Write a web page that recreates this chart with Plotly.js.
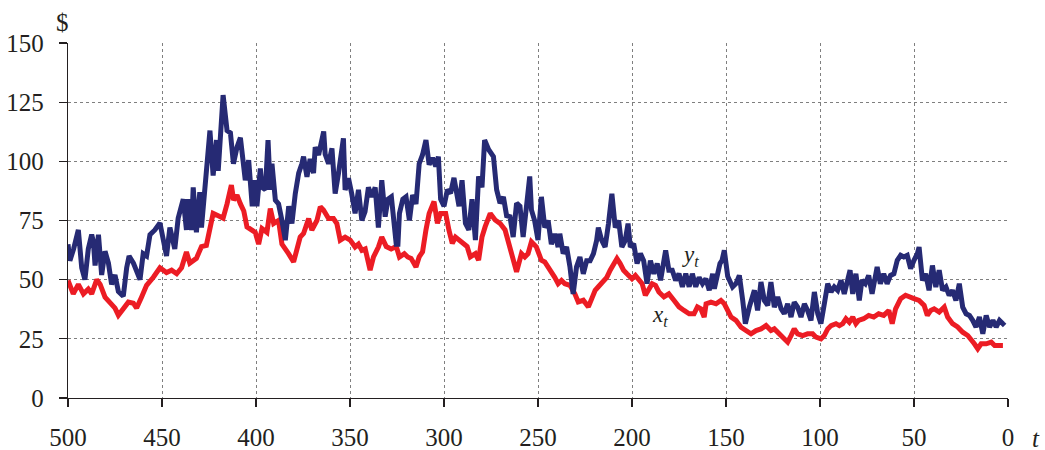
<!DOCTYPE html>
<html>
<head>
<meta charset="utf-8">
<script src="https://cdn.plot.ly/plotly-3.0.1.min.js"></script>
<style>html,body{margin:0;padding:0;background:#fff;}#chart{width:1045px;height:450px;}</style>
</head>
<body>
<div id="chart"></div>
<script>
// y_t (navy) series: time t and price
const yT = [500,499,497,494.5,492.7,491,489.2,487.4,486.5,485.6,483.8,482.1,480.3,478.5,476.8,475,473.2,470.6,468.8,467.5,465.2,461.7,460,458.2,456.4,453.8,451.1,449.4,447.6,445.8,443.2,441.4,438.7,437,436.1,434.3,433.4,431.7,429.9,429,427.2,426.4,424.5,422.8,421,420.1,417.5,415.4,413.6,412,410.1,408.3,406.5,405.7,403.9,402,400.4,399.5,397.7,396.8,395,393.6,392.4,391.5,389.7,388,386.2,384.4,382.6,380.9,379.1,377.3,375.6,374.7,372.9,371.2,369.4,368.5,366.7,364,363.2,361.4,359.6,357.9,356.1,353.5,352.6,350.8,349.1,347.3,345.5,343.7,342,340.2,338.4,336.6,334.9,333.1,331.3,329.8,328,326.3,325.4,324.5,323.7,321.9,320.2,318.4,316.7,314.9,313.2,311.4,309.6,307.9,306.1,304.4,303,301.8,300,298.2,296.5,294.7,292,290.4,288.6,286.8,285.1,283.3,281.6,279.8,278.4,276.3,273.7,272,270.2,268.4,266.7,264.9,263.2,261.4,259.6,257.9,256.1,254.4,253.5,251.8,250,248.2,246.4,244.6,242.9,241.1,239.3,238.4,236.6,234.8,233,231.3,229.5,227.7,225.9,224.1,222.3,220.5,218.8,217.9,216.1,214.3,212.5,210.7,208.9,207.1,205.4,203.6,202.1,200.9,199.1,197.3,195.5,193.8,192,190.2,188.4,186.6,184.8,182.1,180.4,178.6,176.8,175,173.2,171.4,169.6,167.9,166.1,164.3,162.5,160.7,158.9,157.1,156.2,154.4,153.2,152.1,150.9,149.1,146.5,144.7,142.9,141.1,139.7,137.6,134.9,133.2,131.4,129.6,127.8,126.1,124.3,122.5,120.7,119,117.2,115.4,113.7,111.9,110.1,108.3,106.6,104.8,103,101.2,99.5,97.7,95.9,94.1,92.4,90.6,88.8,87.1,85.3,84,82.6,80.9,79.1,77.7,75.9,74.1,72.3,70.5,69.6,67.9,66.1,64.3,62.5,60.7,58.9,57.1,55.4,53.6,51.8,50,48.2,47.3,45.5,43.8,42,40.2,38.4,36.6,34.8,33,31.3,29.5,27.7,25.9,24.1,22.3,20.5,18.8,17,15.2,13.4,11.6,9.8,8,6.3,4.5,2.7,1.8];
const yVal = [65,58,63,71,55,50,63,69,66,56,69,52,62,57,48,52,45,43,55,60,57,50,61,60,69,71,74,67,60,72,63,76,84,71,84,71,89,70,87,72,88,98,113,94,109,96,128,113,112,99,106,110,99,92,100.5,81,92,81,97,89,88,109,88,99,83.6,82,75,66.7,81,73.7,86.4,95,99,102,93.5,101,95,106,102.7,112.6,103,99,105.5,86.4,95,109.7,87.9,92.8,86.4,78,88,75,78.7,89,85,89,72,92,76.6,84,85,72.4,65,65,78,84,85,75,85.8,82,99,102.8,109,98.6,101.4,97.9,102,84,81,88,86.5,93,81,92,73.8,71,84,66.7,93.6,89,109,105,102,88,82.3,85,77,76.6,68,82.3,81,68,84,93.6,79.5,75,66.7,85,72,75,65,69.4,63.8,69.4,61,63.8,55.4,44,55.4,59.6,52.5,58,58,61,66.6,72,66.6,63.8,73.7,86.3,72,75,63.8,66.6,73.7,63.8,65.2,56.8,61,58,48.3,58,52.5,56.8,49.7,62.4,54,54,49.7,52.5,47,52.5,47,52.5,47,51,48.3,50.4,45.5,52.5,46.2,54,56.8,58.2,62.4,51.4,46.9,48.3,51.8,41.2,31.4,38.4,45.5,37,49,41.2,39.1,49,38.4,42.7,37.7,35.6,39.8,34.2,40.5,38.4,34.2,39.8,37,32.8,44.8,35.6,31.4,39.8,48.3,44.8,46.9,45.5,49.7,44,51.1,54,44,52.5,41.2,49.7,48.3,51.8,44,51.1,55.4,48.3,52.5,48.3,51.8,52.5,58.2,60.3,59.6,60.3,54.7,58.2,61,63.8,49.7,52.5,45.5,56,46.9,54,45.5,46.9,43.4,45.5,41.2,48.3,38.4,35.6,34.9,32.8,30,34.2,27.1,34.9,30,32.8,30,32.8,31.4,32.1];

// x_t (red) series
const xT = [500,497.2,494.5,491.8,489.2,487.4,484.7,482.9,480.3,477.7,475,473.2,470.6,467.9,465.2,463.5,460.9,458.2,454.6,451.1,447.6,444.9,442.2,439.6,437,435.2,431.7,429,426.4,422.8,420.1,417.5,415.4,413.1,411.9,410.1,408.3,406.5,404.8,403,400.4,398.6,396.8,394.2,392.4,390.6,388,386.2,384.4,382.7,380,378.2,376.5,374.7,372,370.3,367.6,365.8,364.1,361.4,358.8,357,355.2,352.6,349.9,347.3,345.5,343.7,341.9,339.3,337.5,334.9,333.1,330.7,328.1,325.4,323.7,321.1,319.3,317.5,314.9,313.2,311.4,309.6,307.9,305.3,303.5,301.8,299.1,297.4,295.6,293.9,292.1,289.5,287.7,286,283.3,281.6,279.8,278.1,275.4,272.8,270.2,267.5,264.9,263.2,261.4,258.8,257,255.3,253.5,250.9,248.2,246.4,244.6,242.9,241.1,239.3,237.5,235.7,233,230.4,228.6,225.9,223.2,221.4,219.6,217.9,215.2,213.4,211.6,209.8,208,206.3,204.5,202.7,200,198.2,196.4,194.6,192.9,191.1,189.3,187.5,185.7,183,180.4,177.7,175,172.3,169.6,167,165.2,163.4,161.6,160.6,158,155.3,152.7,150.9,149.1,147.3,144.7,142,139.4,136.7,134,131.4,128.7,126.1,124.3,121.6,119,117.2,115.4,113.7,111.9,109.2,106.6,103.9,102.1,99.5,97.7,95.9,94.1,91.5,89.7,87.9,86.2,84.4,82.6,80.9,79.5,76.8,74.1,71.4,68.8,66.1,63.4,61.6,59.8,57.1,54.5,52.7,50,47.3,44.6,42.9,41.1,39.3,36.6,33.9,32.1,29.5,26.8,24.1,21.4,17.9,16.1,14.3,11.6,8.9,7.1,4.5,2.7];
const xVal = [49.7,44,48,44,46,44,50,48,42.6,40,38,35,38,40.5,40,38,42.6,47.6,51,55,53,54,52.5,55,61.7,57,59,64,64.5,78,77,76,82,90,83.6,85.7,82,79,72.3,71.6,70,65,71.6,70,80,73.7,75,65,62.4,61,57.5,63,68,69.5,75.8,71,75,80.8,79.4,75.8,75.8,73.7,66.7,68,66.7,63.8,65,62.4,63,54,59.6,63.8,68,64,63,64,59.6,61,59.6,59,55.4,59.6,61.8,71,78,83,73.8,78,78,71,65.3,68,66.7,65.3,64,59.6,61,58.2,68,72.4,78,75.2,73.8,71,62.5,58.2,53.3,61,59.6,61,66,63.9,58.2,57.5,55.4,54,51,48.3,49.7,48.3,47.6,44,40.6,41.3,38.5,42,45.5,47,49.7,51,54,56.8,58.9,56.8,54,52.5,50.4,51.8,50.4,48.3,43.4,45.5,48.3,47.6,44.8,42.7,44,41.3,38.5,37,35.6,35.6,38.5,37.7,34.2,39.8,40.5,39.8,41.2,39.8,37,34.2,32.8,29.9,28.5,27.1,28.5,29.2,30.6,28.5,29.2,27.1,25.7,23.6,26.4,29.2,27.1,26.4,27.1,27.1,25.7,25,26.4,29.2,30.6,31.4,30.6,31.4,33.5,32,34.2,31.4,32.8,33.5,34.9,34.2,35.6,34.9,37,31.4,37.7,42,43.4,42.7,42,41.2,39.1,34.9,37,37.7,36.3,38.4,34.2,31.4,30,27.8,26.4,22.9,20.8,22.9,22.9,23.6,22.2,22.2,22.2];

const xTicks = [500,450,400,350,300,250,200,150,100,50,0];
const yTicks = [0,25,50,75,100,125,150];

const serif = 'Liberation Serif';
const ink = '#231f20';

const traces = [
  {x: xT, y: xVal, type: 'scatter', mode: 'lines', line: {color: '#ec1c24', width: 5}, hoverinfo: 'skip'},
  {x: yT, y: yVal, type: 'scatter', mode: 'lines', line: {color: '#262a74', width: 5}, hoverinfo: 'skip'}
];

const layout = {
  width: 1045, height: 450,
  margin: {l: 68, r: 37, t: 43, b: 52},
  paper_bgcolor: '#fff', plot_bgcolor: '#fff',
  showlegend: false,
  font: {family: serif, size: 25, color: ink},
  xaxis: {
    range: [500, 0], tickvals: xTicks, ticktext: xTicks.map(String),
    showgrid: true, gridcolor: '#7f7f7f', griddash: 'dot', gridwidth: 1,
    showline: true, linecolor: ink, linewidth: 1.3,
    ticks: 'outside', ticklen: 8, tickcolor: ink, tickwidth: 1.3,
    zeroline: false, tickfont: {family: serif, size: 25, color: ink},
    ticklabelstandoff: 9
  },
  yaxis: {
    range: [0, 150], tickvals: yTicks, ticktext: yTicks.map(String),
    showgrid: true, gridcolor: '#7f7f7f', griddash: 'dot', gridwidth: 1,
    showline: true, linecolor: ink, linewidth: 1.3,
    ticks: 'outside', ticklen: 8, tickcolor: ink, tickwidth: 1.3,
    zeroline: false, tickfont: {family: serif, size: 25, color: ink},
    ticklabelstandoff: 10
  },
  annotations: [
    {xref: 'paper', yref: 'paper', x: 0, y: 1.0, xshift: -6, yshift: 21, text: '$', showarrow: false,
     font: {family: serif, size: 25, color: ink}, xanchor: 'center', yanchor: 'middle'},
    {xref: 'paper', yref: 'paper', x: 1.0, y: 0, xshift: 28, yshift: -40, text: '<i>t</i>', showarrow: false,
     font: {family: serif, size: 25, color: ink}, xanchor: 'center', yanchor: 'middle', borderpad: 0, width: 10},
    {xref: 'x', yref: 'y', x: 169, y: 60, text: '<i>y<sub>t</sub></i>', showarrow: false,
     font: {family: serif, size: 23, color: ink}, xanchor: 'center', yanchor: 'middle'},
    {xref: 'x', yref: 'y', x: 185, y: 34.5, text: '<i>x<sub>t</sub></i>', showarrow: false,
     font: {family: serif, size: 23, color: ink}, xanchor: 'center', yanchor: 'middle'}
  ]
};

Plotly.newPlot('chart', traces, layout, {staticPlot: true, displayModeBar: false});
</script>
</body>
</html>
